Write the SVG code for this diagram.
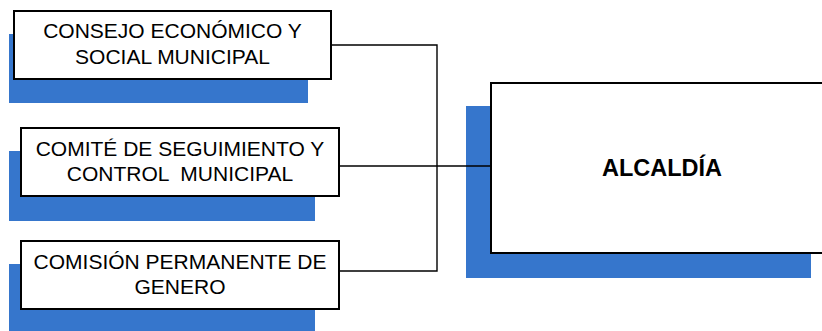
<svg xmlns="http://www.w3.org/2000/svg" width="822" height="331" viewBox="0 0 822 331">
<style>
.sh{fill:#3676cc}
.bx{fill:#fff;stroke:#000;stroke-width:2}
.t{font-family:"Liberation Sans",Arial,sans-serif;font-size:21px;fill:#000;text-anchor:middle;white-space:pre}
.tb{font-family:"Liberation Sans",Arial,sans-serif;font-size:23.5px;font-weight:bold;fill:#000;text-anchor:middle}
.c{fill:none;stroke:#000;stroke-width:1.4}
</style>
<rect width="822" height="331" fill="#fff"/>
<g id="consejo">
<rect class="sh" x="9" y="34" width="299" height="69"/>
<rect class="bx" x="14" y="11" width="317" height="68"/>
<text class="t" x="172.5" y="37.7">CONSEJO ECONÓMICO Y</text>
<text class="t" x="172.5" y="64">SOCIAL MUNICIPAL</text>
</g>
<g id="comite">
<rect class="sh" x="9" y="151" width="306" height="70"/>
<rect class="bx" x="21" y="128" width="318" height="68"/>
<text class="t" x="180" y="156" xml:space="preserve">COMITÉ DE SEGUIMIENTO Y</text>
<text class="t" x="180" y="181" xml:space="preserve">CONTROL  MUNICIPAL</text>
</g>
<g id="comision">
<rect class="sh" x="9" y="264" width="306" height="70"/>
<rect class="bx" x="21" y="241" width="318" height="68"/>
<text class="t" x="180" y="269">COMISIÓN PERMANENTE DE</text>
<text class="t" x="180" y="294">GENERO</text>
</g>
<g id="alcaldia">
<rect class="sh" x="466" y="106" width="345" height="172"/>
<rect class="bx" x="491" y="83" width="345" height="170"/>
<text class="tb" x="662" y="176">ALCALDÍA</text>
</g>
<g id="connectors">
<path class="c" d="M331,45 H437 V271 H339"/>
<path class="c" d="M339,166 H491" stroke-width="2"/>
</g>
</svg>
